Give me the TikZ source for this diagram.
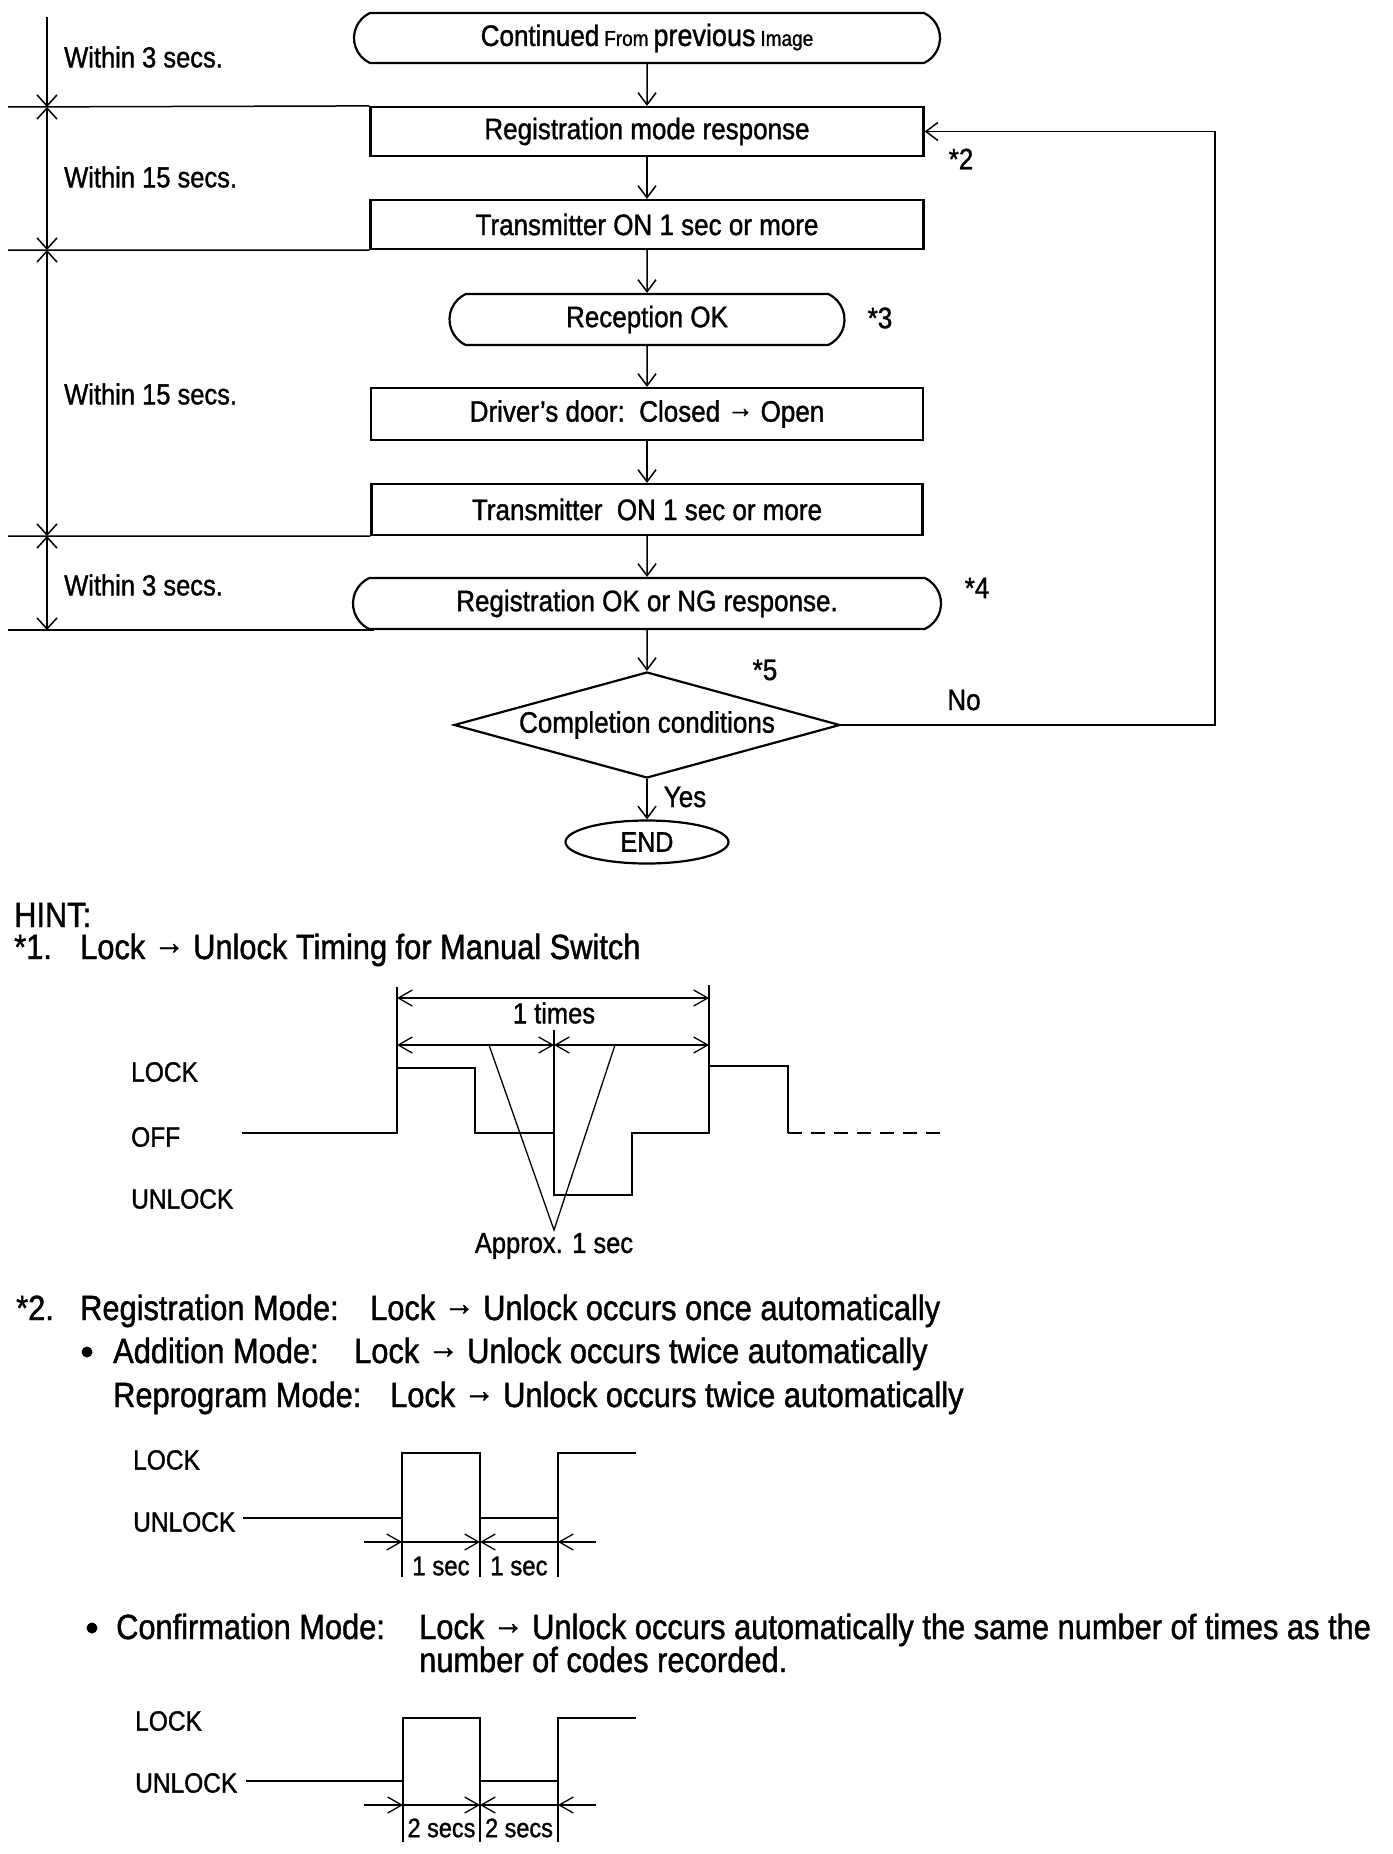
\documentclass[tikz,border=0pt]{standalone}
\usepackage{fontspec}
\setmainfont[FakeStretch=0.88,FakeBold=1.2]{Liberation Sans}
\usetikzlibrary{arrows.meta,shapes.geometric,shapes.misc}
\newcommand\fsz[1]{\fontsize{\fpeval{#1/0.88}pt}{\fpeval{#1/0.88}pt}\selectfont}
\newcommand\rar{\raisebox{0.14em}{→}}
\tikzset{
  flowtip/.tip={Straight Barb[length=12pt,width=18pt]},
  timetip/.tip={Straight Barb[length=11pt,width=20pt]},
  dimtip/.tip={Straight Barb[length=14pt,width=16pt]},
}
\begin{document}
\begin{tikzpicture}[x=1pt,y=-1pt,
  every node/.style={inner sep=0pt},
  box/.style={draw,line width=2.2pt,minimum width=553pt,minimum height=49pt,font=\fsz{26}},
  term/.style={draw,rounded rectangle,rounded rectangle arc length=130,line width=2.2pt,font=\fsz{26}},
  flow/.style={line width=1.5pt,-flowtip},
  conn/.style={line width=1.5pt},
  lbl/.style={font=\fsz{26}},
  side/.style={font=\fsz{25.5},anchor=west},
  hint/.style={font=\fsz{30.8},anchor=base west},
  lev/.style={font=\fsz{24.5},anchor=west},
  sig/.style={line width=2.4pt},
  dim/.style={line width=1.3pt},
  bullet/.style={circle,fill,minimum size=11pt},
]
\fill[white] (0,0) rectangle (1392,1854);

% ---------------- flowchart ----------------
\node[term,minimum width=586pt,minimum height=50pt] (cont) at (647,38)
  {Continued\,{\fsz{19}From}\,{\fsz{27}previous}\,{\fsz{19}Image}};
\node[box] (reg) at (647,131.5) {Registration mode response};
\node[box] (tx1) at (647,224.5) {Transmitter ON 1 sec or more};
\node[term,minimum width=395pt,minimum height=51pt] (rec) at (647,319.5) {Reception OK};
\node[box,minimum width=552pt,minimum height=52pt] (door) at (647,414) {Driver’s door:\ \ Closed \rar\ Open};
\node[box,minimum width=551pt,minimum height=51pt] (tx2) at (647,509.5) {Transmitter\ \ ON 1 sec or more};
\node[term,minimum width=588pt,minimum height=51pt] (regok) at (647,603.5) {Registration OK or NG response.};
\node[draw,diamond,aspect=3.84,minimum width=386pt,minimum height=106pt,line width=2.2pt,font=\fsz{26}] (cond) at (647,725) {Completion conditions};
\node[draw,ellipse,minimum width=163pt,minimum height=43pt,line width=2.2pt,font=\fsz{25}] (end) at (647,842) {END};

\draw[flow] (cont) -- (reg);
\draw[flow] (reg) -- (tx1);
\draw[flow] (tx1) -- (rec);
\draw[flow] (rec) -- (door);
\draw[flow] (door) -- (tx2);
\draw[flow] (tx2) -- (regok);
\draw[flow] (regok) -- (cond);
\draw[flow] (cond) -- (end);
\coordinate (fb) at (1215,725);
\draw[flow] (cond.east) -- (fb) |- (reg.east);

\node[lbl] (n2) at (961,159) {*2};
\node[lbl] (n3) at (880,318) {*3};
\node[lbl] (n4) at (977,588) {*4};
\node[lbl] (n5) at (765,670) {*5};
\node[lbl] (no) at (964,700) {No};
\node[lbl] (yes) at (685,797) {Yes};

% ---------------- time line on the left ----------------
\coordinate (t0) at (47,17);
\coordinate (t1) at (47,107);
\coordinate (t2) at (47,250);
\coordinate (t3) at (47,536);
\coordinate (t4) at (47,630);
\coordinate (h1) at (8,107);
\coordinate (h2) at (8,250);
\coordinate (h3) at (8,536);
\coordinate (h4) at (8,630);
\coordinate (h4e) at (374,630);
\draw[conn] (h1) -- (reg.north west);
\draw[conn] (h2) -- (tx1.south west);
\draw[conn] (h3) -- (tx2.south west);
\draw[conn] (h4) -- (h4e);
\draw[conn,-timetip] (t0) -- (t1);
\draw[conn,timetip-timetip] (t1) -- (t2);
\draw[conn,timetip-timetip] (t2) -- (t3);
\draw[conn,timetip-timetip] (t3) -- (t4);
\node[side] (w1) at (64,57) {Within 3 secs.};
\node[side] (w2) at (64,177) {Within 15 secs.};
\node[side] (w3) at (64,394) {Within 15 secs.};
\node[side] (w4) at (64,585) {Within 3 secs.};

% ---------------- HINT ----------------
\node[hint] (hint) at (14,927) {HINT:};
\node[hint] (s1) at (14,959) {*1.};
\node[hint] (s1t) at (80,959) {Lock \rar\ Unlock Timing for Manual Switch};

% timing diagram 1
\node[lev] (l1lock) at (131,1072) {LOCK};
\node[lev] (l1off) at (131,1137) {OFF};
\node[lev] (l1unl) at (131,1199) {UNLOCK};
\draw[sig] (242,1133) -- (397,1133) -- (397,1068) -- (475,1068) -- (475,1133) -- (554,1133)
  -- (554,1195) -- (632,1195) -- (632,1133) -- (709,1133) -- (709,1066) -- (788,1066) -- (788,1133);
\draw[sig,dash pattern=on 14pt off 9pt] (788,1133) -- (945,1133);
\draw[dim] (397,987) -- (397,1068);
\draw[dim] (709,985) -- (709,1066);
\draw[dim] (554,1030) -- (554,1133);
\draw[dim,dimtip-dimtip] (397,998) -- (709,998);
\draw[dim,dimtip-dimtip] (397,1045) -- (554,1045);
\draw[dim,dimtip-dimtip] (554,1045) -- (709,1045);
\node[font=\fsz{25.5}] (times) at (554,1013) {1 times};
\node[font=\fsz{25.5}] (approx) at (554,1246) {Approx. 1 sec};
\coordinate (v1) at (489,1045);
\coordinate (v2) at (615,1045);
\coordinate (vap) at (554,1230);
\draw[dim] (v1) -- (vap) -- (v2);

% ---------------- *2 ----------------
\node[hint] (s2) at (16,1320) {*2.};
\node[hint] (s2a) at (80,1320) {Registration Mode:};
\node[hint] (s2b) at (370,1320) {Lock \rar\ Unlock occurs once automatically};
\node[bullet] (b1) at (87,1352) {};
\node[hint] (add) at (113,1363) {Addition Mode:};
\node[hint] (addt) at (354,1363) {Lock \rar\ Unlock occurs twice automatically};
\node[hint] (rep) at (113,1407) {Reprogram Mode:};
\node[hint] (rept) at (390,1407) {Lock \rar\ Unlock occurs twice automatically};

% timing diagram 2
\node[lev] (l2lock) at (133,1460) {LOCK};
\node[lev] (l2unl) at (133,1522) {UNLOCK};
\draw[sig] (243,1518) -- (402,1518) -- (402,1453) -- (480,1453) -- (480,1518) -- (558,1518) -- (558,1453) -- (636,1453);
\draw[dim] (402,1518) -- (402,1577);
\draw[dim] (480,1518) -- (480,1577);
\draw[dim] (558,1518) -- (558,1577);
\draw[dim,-dimtip] (364,1542) -- (402,1542);
\draw[dim,-dimtip] (402,1542) -- (480,1542);
\draw[dim,-dimtip] (596,1542) -- (558,1542);
\draw[dim,-dimtip] (558,1542) -- (480,1542);
\node[font=\fsz{24}] (sec1) at (441,1566) {1 sec};
\node[font=\fsz{24}] (sec2) at (519,1566) {1 sec};

% confirmation
\node[bullet] (b2) at (92,1628) {};
\node[hint] (conf) at (116,1639) {Confirmation Mode:};
\node[hint] (conft) at (419,1639) {Lock \rar\ Unlock occurs automatically the same number of times as the};
\node[hint] (conft2) at (419,1672) {number of codes recorded.};

% timing diagram 3
\node[lev] (l3lock) at (135,1721) {LOCK};
\node[lev] (l3unl) at (135,1783) {UNLOCK};
\draw[sig] (246,1781) -- (403,1781) -- (403,1718) -- (480,1718) -- (480,1781) -- (558,1781) -- (558,1718) -- (636,1718);
\draw[dim] (403,1781) -- (403,1842);
\draw[dim] (480,1781) -- (480,1842);
\draw[dim] (558,1781) -- (558,1842);
\draw[dim,-dimtip] (364,1805) -- (403,1805);
\draw[dim,-dimtip] (403,1805) -- (480,1805);
\draw[dim,-dimtip] (596,1805) -- (558,1805);
\draw[dim,-dimtip] (558,1805) -- (480,1805);
\node[font=\fsz{23.5}] (secs1) at (441.5,1828) {2 secs};
\node[font=\fsz{23.5}] (secs2) at (519,1828) {2 secs};
\end{tikzpicture}
\end{document}
